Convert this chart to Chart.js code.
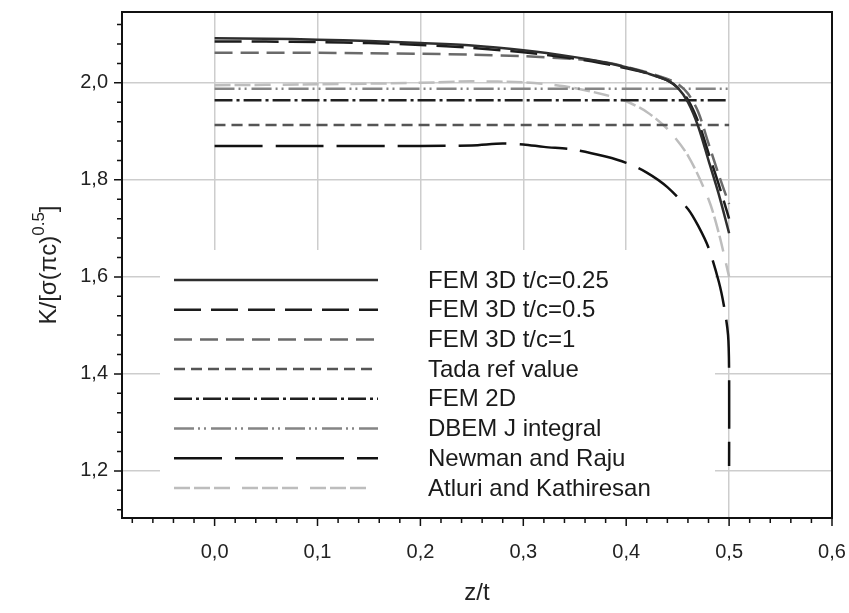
<!DOCTYPE html>
<html lang="en">
<head>
<meta charset="UTF-8">
<title>K/[σ(πc)^0.5] along z/t</title>
<script src="https://cdn.jsdelivr.net/npm/chart.js"></script>
<style>
  html, body { margin: 0; padding: 0; background: #fff; }
  #kChart { display: block; }
</style>
</head>
<body>
<canvas id="kChart" width="849" height="613"></canvas>
<script>
// values
var zFem    = [0, 0.05, 0.1, 0.15, 0.2, 0.25, 0.3, 0.35, 0.375, 0.4, 0.42, 0.44, 0.45, 0.46, 0.47, 0.48, 0.49, 0.5];
var fem025  = [2.092, 2.091, 2.089, 2.086, 2.082, 2.077, 2.067, 2.053, 2.044, 2.032, 2.020, 2.005, 1.990, 1.960, 1.910, 1.840, 1.770, 1.690];
var fem05   = [2.085, 2.085, 2.084, 2.082, 2.078, 2.072, 2.063, 2.050, 2.041, 2.030, 2.020, 2.005, 1.990, 1.965, 1.920, 1.855, 1.790, 1.720];
var fem1    = [2.062, 2.062, 2.062, 2.061, 2.060, 2.058, 2.055, 2.049, 2.044, 2.033, 2.022, 2.008, 1.998, 1.978, 1.940, 1.875, 1.810, 1.750];

var zFlat   = [0, 0.5];
var tada    = [1.913, 1.913];
var fem2d   = [1.964, 1.964];
var dbem    = [1.988, 1.988];

var zNewman = [0, 0.1, 0.2, 0.25, 0.28, 0.3, 0.32, 0.35, 0.38, 0.4, 0.42, 0.44, 0.46, 0.47, 0.48, 0.49, 0.495, 0.499, 0.5, 0.5];
var newman  = [1.870, 1.870, 1.870, 1.871, 1.875, 1.873, 1.868, 1.862, 1.848, 1.835, 1.815, 1.785, 1.740, 1.705, 1.660, 1.590, 1.540, 1.480, 1.400, 1.210];

var zAtluri = [0, 0.1, 0.2, 0.25, 0.3, 0.34, 0.38, 0.4, 0.42, 0.44, 0.46, 0.48, 0.49, 0.5];
var atluri  = [1.995, 1.997, 2.000, 2.003, 2.001, 1.993, 1.975, 1.962, 1.940, 1.905, 1.850, 1.760, 1.690, 1.600];

var xTicks = [0, 0.1, 0.2, 0.3, 0.4, 0.5, 0.6];
var yTicks = [1.2, 1.4, 1.6, 1.8, 2.0];

function pts(xs, ys) {
  return xs.map(function(x, i) { return { x: x, y: ys[i] }; });
}

Chart.defaults.font.family = '"Liberation Sans", Arial, sans-serif';
Chart.defaults.color = '#222';

function line(label, xs, ys, color, dash, width) {
  return {
    label: label,
    data: pts(xs, ys),
    borderColor: color,
    borderDash: dash,
    borderWidth: width,
    pointRadius: 0,
    fill: false,
    tension: 0.3
  };
}

// white panel behind the legend, the way the original hides the grid there
var legendPanel = {
  id: 'legendPanel',
  beforeDatasetsDraw: function(chart) {
    var ctx = chart.ctx, a = chart.chartArea;
    ctx.save();
    ctx.fillStyle = '#fff';
    ctx.fillRect(a.left + 38, 250, 555, a.bottom - 250);
    ctx.restore();
  }
};

var lineLegend = {
  id: 'lineLegend',
  afterDatasetsDraw: function(chart) {
    var ctx = chart.ctx;
    ctx.save();
    ctx.font = '24px "Liberation Sans", Arial, sans-serif';
    ctx.textBaseline = 'middle';
    ctx.fillStyle = '#1a1a1a';
    chart.data.datasets.forEach(function(ds, i) {
      var y = 280 + i * 29.7;
      ctx.strokeStyle = ds.borderColor;
      ctx.lineWidth = ds.borderWidth;
      ctx.setLineDash(ds.borderDash || []);
      ctx.beginPath();
      ctx.moveTo(174, y);
      ctx.lineTo(378, y);
      ctx.stroke();
      ctx.setLineDash([]);
      ctx.fillText(ds.label, 428, y + 1);
    });
    ctx.restore();
  }
};

// frame, tick marks and the y title with its superscript
var frameTicks = {
  id: 'frameTicks',
  afterDraw: function(chart) {
    var ctx = chart.ctx, a = chart.chartArea;
    var xs = chart.scales.x, ys = chart.scales.y;
    ctx.save();
    ctx.strokeStyle = '#111';
    ctx.lineWidth = 2;
    ctx.strokeRect(a.left, a.top, a.right - a.left, a.bottom - a.top);

    ctx.lineWidth = 1.5;
    ctx.beginPath();
    for (var k = -4; k <= 30; k++) {
      var v = k * 0.02;
      var px = xs.getPixelForValue(v);
      if (px < a.left - 0.5 || px > a.right + 0.5) continue;
      var len = (k % 5 === 0) ? 8 : 5;
      ctx.moveTo(px, a.bottom);
      ctx.lineTo(px, a.bottom + len);
    }
    for (var j = 28; j <= 54; j++) {
      var w = j * 0.04;
      var py = ys.getPixelForValue(w);
      if (py < a.top - 0.5 || py > a.bottom + 0.5) continue;
      var ln = (j % 5 === 0) ? 8 : 5;
      ctx.moveTo(a.left, py);
      ctx.lineTo(a.left - ln, py);
    }
    ctx.stroke();

    // y title
    var big = '24px "Liberation Sans", Arial, sans-serif';
    var small = '17px "Liberation Sans", Arial, sans-serif';
    var p1 = 'K/[σ(πc)', p2 = '0.5', p3 = ']';
    ctx.font = big;
    var w1 = ctx.measureText(p1).width, w3 = ctx.measureText(p3).width;
    ctx.font = small;
    var w2 = ctx.measureText(p2).width;
    var total = w1 + w2 + w3;
    ctx.translate(47, (a.top + a.bottom) / 2);
    ctx.rotate(-Math.PI / 2);
    ctx.fillStyle = '#222';
    ctx.textBaseline = 'alphabetic';
    ctx.textAlign = 'left';
    var sx = -total / 2;
    ctx.font = big;
    ctx.fillText(p1, sx, 9);
    ctx.font = small;
    ctx.fillText(p2, sx + w1, -3);
    ctx.font = big;
    ctx.fillText(p3, sx + w1 + w2, 9);
    ctx.restore();
  }
};

new Chart(document.getElementById('kChart').getContext('2d'), {
  type: 'line',
  data: {
    datasets: [
      line('FEM 3D t/c=0.25', zFem, fem025, '#2e2e2e', [], 2.5),
      line('FEM 3D t/c=0.5', zFem, fem05, '#1c1c1c', [27, 10], 2.5),
      line('FEM 3D t/c=1', zFem, fem1, '#6a6a6a', [18, 8], 2.5),
      line('Tada ref value', zFlat, tada, '#555555', [11, 6], 2.5),
      line('FEM 2D', zFlat, fem2d, '#1f1f1f', [18, 4, 3, 4], 2.5),
      line('DBEM J integral', zFlat, dbem, '#858585', [20, 4, 2, 4, 2, 5], 2.5),
      line('Newman and Raju', zNewman, newman, '#111111', [48, 13], 2.5),
      line('Atluri and Kathiresan', zAtluri, atluri, '#bdbdbd', [16, 4, 16, 4, 16, 12], 2.5)
    ]
  },
  options: {
    responsive: false,
    animation: false,
    layout: { padding: { top: 12, right: 17, left: 0, bottom: 0 } },
    plugins: {
      legend: { display: false },
      tooltip: { enabled: false }
    },
    scales: {
      x: {
        type: 'linear',
        min: -0.09,
        max: 0.6,
        afterBuildTicks: function(scale) {
          scale.ticks = xTicks.map(function(v) { return { value: v }; });
        },
        afterFit: function(scale) {
          scale.height = 95;
          scale.paddingLeft = 0;
          scale.paddingRight = 0;
        },
        border: { display: false },
        grid: {
          drawTicks: false,
          lineWidth: 1.5,
          color: function(c) {
            return (c.tick && c.tick.value > 0.55) ? 'rgba(0,0,0,0)' : '#cdcdcd';
          }
        },
        ticks: {
          padding: 22,
          maxRotation: 0,
          font: { size: 20 },
          callback: function(v) { return Number(v).toFixed(1).replace('.', ','); }
        },
        title: {
          display: true,
          text: 'z/t',
          font: { size: 24 },
          padding: { top: 0, bottom: 5 }
        }
      },
      y: {
        min: 1.103,
        max: 2.146,
        afterBuildTicks: function(scale) {
          scale.ticks = yTicks.map(function(v) { return { value: v }; });
        },
        afterFit: function(scale) {
          scale.width = 122;
          scale.paddingTop = 0;
          scale.paddingBottom = 0;
        },
        border: { display: false },
        grid: { drawTicks: false, lineWidth: 1.5, color: '#cdcdcd' },
        ticks: {
          padding: 14,
          font: { size: 20 },
          callback: function(v) { return Number(v).toFixed(1).replace('.', ','); }
        }
      }
    }
  },
  plugins: [legendPanel, lineLegend, frameTicks]
});
</script>
</body>
</html>
